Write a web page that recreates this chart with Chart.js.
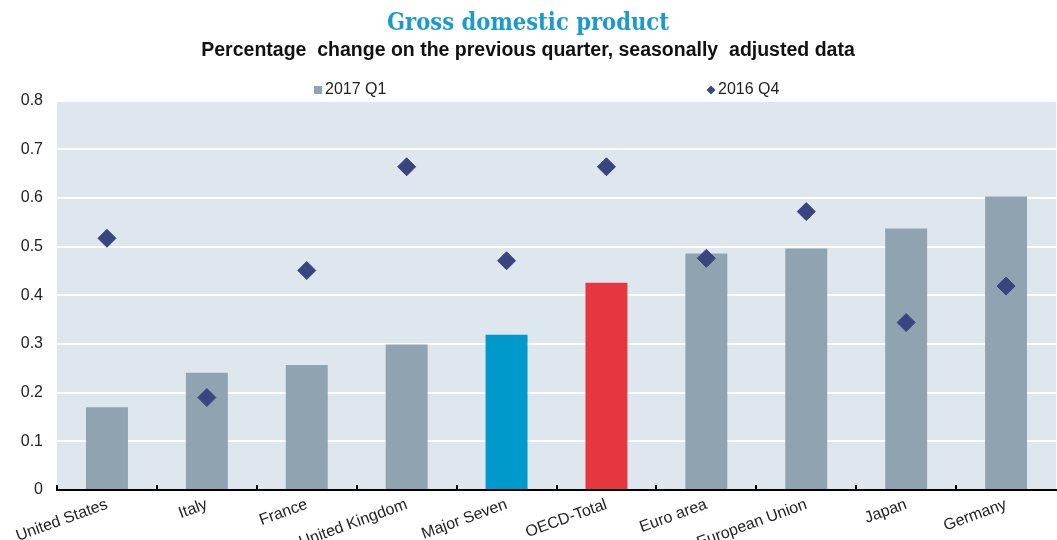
<!DOCTYPE html>
<html>
<head>
<meta charset="utf-8">
<script src="https://cdn.jsdelivr.net/npm/chart.js@4/dist/chart.umd.min.js"></script>
<style>
  html, body { margin: 0; padding: 0; background: #ffffff; }
  #wrap { width: 1057px; height: 540px; position: relative; }
</style>
</head>
<body>
<div id="wrap"><canvas id="c"></canvas></div>
<script>
const categories = ['United States', 'Italy', 'France', 'United Kingdom', 'Major Seven', 'OECD-Total', 'Euro area', 'European Union', 'Japan', 'Germany'];
const q1_2017 = [0.170, 0.241, 0.257, 0.299, 0.319, 0.426, 0.486, 0.496, 0.537, 0.603];
const q4_2016 = [0.517, 0.190, 0.451, 0.664, 0.471, 0.664, 0.476, 0.572, 0.344, 0.419];
const seriesNames = ['2017 Q1', '2016 Q4'];
const titleText = 'Gross domestic product';
const subtitleText = 'Percentage  change on the previous quarter, seasonally  adjusted data';

const GREY = '#8fa4b0';
const BLUE = '#0099cc';
const RED = '#e63741';
const NAVY = '#3a4480';
const BG = '#dee7ee';

const barColors = categories.map(c => c === 'Major Seven' ? BLUE : (c === 'OECD-Total' ? RED : GREY));

const areaBg = {
  id: 'areaBg',
  beforeDraw(chart) {
    const { ctx, chartArea: a } = chart;
    ctx.save();
    ctx.fillStyle = BG;
    ctx.fillRect(a.left, a.top, a.right - a.left, a.bottom - a.top);
    ctx.restore();
  }
};

const innerTicks = {
  id: 'innerTicks',
  afterDatasetsDraw(chart) {
    const { ctx, chartArea: a, scales: { x } } = chart;
    const step = x.getPixelForValue(1) - x.getPixelForValue(0);
    ctx.save();
    ctx.strokeStyle = '#000';
    ctx.lineWidth = 2;
    for (let i = 0; i < categories.length; i++) {
      const px = Math.round(x.getPixelForValue(i) - step / 2);
      ctx.beginPath();
      ctx.moveTo(px, a.bottom);
      ctx.lineTo(px, a.bottom - 5);
      ctx.stroke();
    }
    ctx.restore();
  }
};

const customLegend = {
  id: 'customLegend',
  afterDraw(chart) {
    const { ctx } = chart;
    const y = 90;
    ctx.save();
    ctx.font = '16px "Liberation Sans", Arial, sans-serif';
    ctx.textBaseline = 'middle';
    const x1 = 314;
    ctx.fillStyle = GREY;
    ctx.fillRect(x1, y - 4, 8, 8);
    ctx.fillStyle = '#222';
    ctx.fillText(seriesNames[0], x1 + 11, y);
    const x2 = 711;
    ctx.fillStyle = NAVY;
    ctx.beginPath();
    ctx.moveTo(x2 - 4.5, y);
    ctx.lineTo(x2, y - 4.5);
    ctx.lineTo(x2 + 4.5, y);
    ctx.lineTo(x2, y + 4.5);
    ctx.closePath();
    ctx.fill();
    ctx.fillStyle = '#222';
    ctx.fillText(seriesNames[1], x2 + 7, y);
    ctx.restore();
  }
};

new Chart(document.getElementById('c'), {
  data: {
    labels: categories,
    datasets: [
      {
        type: 'line',
        label: seriesNames[1],
        data: q4_2016,
        showLine: false,
        pointStyle: 'rectRot',
        pointRadius: 9,
        pointBorderWidth: 1,
        pointBackgroundColor: NAVY,
        pointBorderColor: NAVY,
        order: 0
      },
      {
        type: 'bar',
        label: seriesNames[0],
        data: q1_2017,
        backgroundColor: barColors,
        borderWidth: 0,
        categoryPercentage: 1,
        barPercentage: 0.42,
        order: 1
      }
    ]
  },
  options: {
    responsive: true,
    maintainAspectRatio: false,
    animation: false,
    layout: { autoPadding: false, padding: { left: 0, right: 1, top: 0, bottom: 0 } },
    plugins: {
      legend: { display: false },
      tooltip: { enabled: false },
      title: {
        display: true,
        text: titleText,
        color: '#1a9bd0',
        font: { family: '"DejaVu Serif Condensed", "DejaVu Serif", serif', size: 23.5, weight: 'bold' },
        padding: { top: 10, bottom: 1 }
      },
      subtitle: {
        display: true,
        text: subtitleText,
        color: '#111',
        font: { family: '"Liberation Sans", Arial, sans-serif', size: 19.5, weight: 'bold' },
        padding: { top: 0, bottom: 38 }
      }
    },
    scales: {
      x: {
        grid: { display: false, drawTicks: false },
        border: { display: true, color: '#000', width: 2 },
        ticks: {
          color: '#222',
          font: { family: '"Liberation Sans", Arial, sans-serif', size: 16 },
          minRotation: 20,
          maxRotation: 20,
          autoSkip: false,
          padding: 5
        },
        afterFit(scale) {
          scale.height = 50;
          scale.paddingRight = 0;
          scale.paddingLeft = 0;
        }
      },
      y: {
        min: 0,
        max: 0.8,
        grid: { color: '#ffffff', lineWidth: 2, drawTicks: false },
        border: { display: false },
        ticks: {
          stepSize: 0.1,
          color: '#222',
          padding: 14,
          font: { family: '"Liberation Sans", Arial, sans-serif', size: 16 },
          callback: v => (Math.round(v * 10) / 10).toString()
        },
        afterFit(scale) { scale.width = 57; }
      }
    }
  },
  plugins: [areaBg, innerTicks, customLegend]
});
</script>
</body>
</html>
